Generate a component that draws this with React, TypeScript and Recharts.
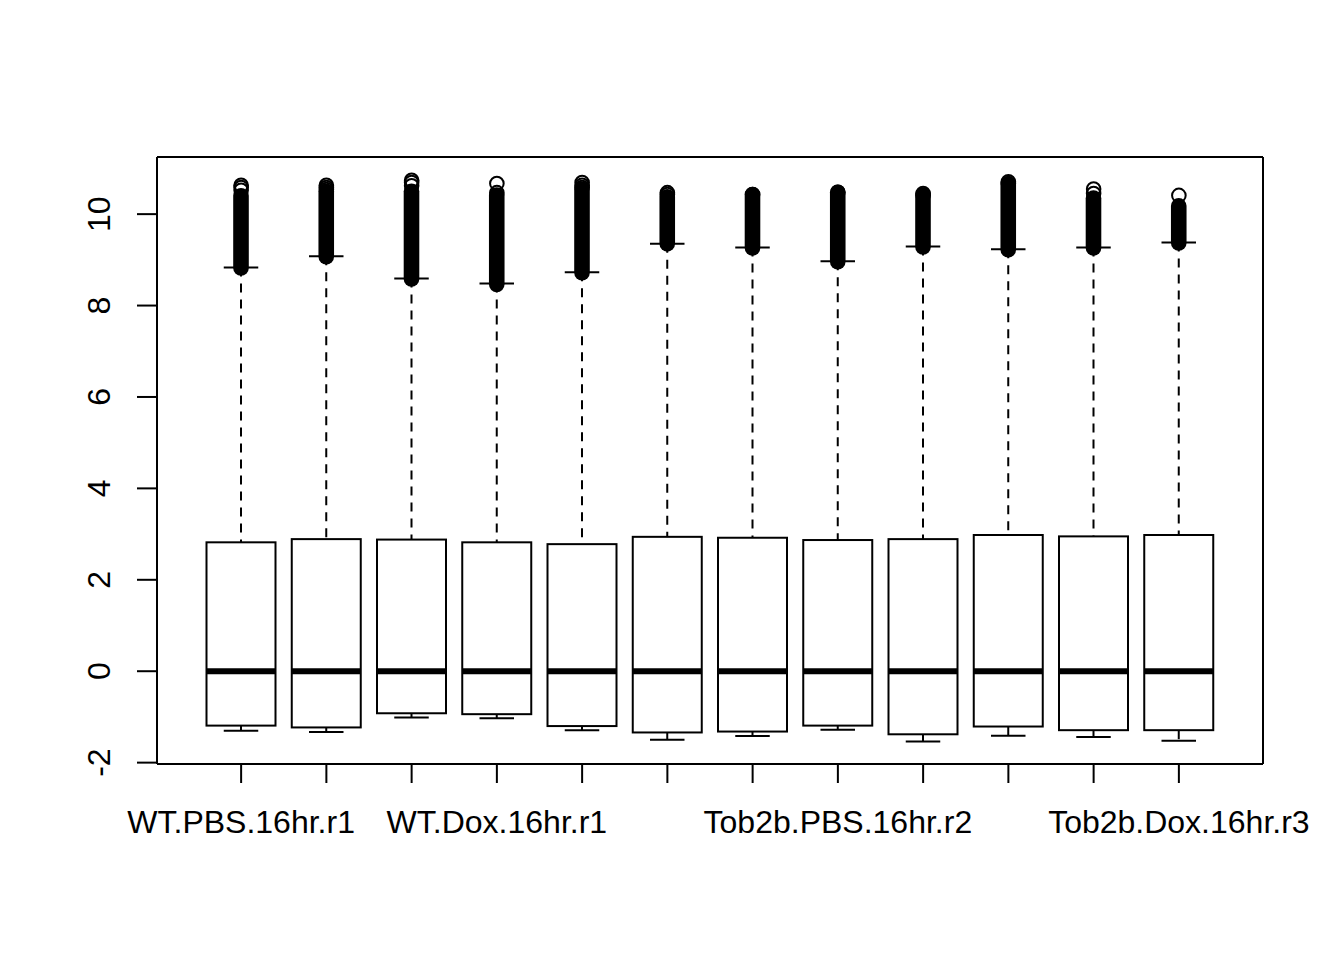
import { Bar, ComposedChart, Scatter, XAxis, YAxis } from "recharts";

const FONT = "'Liberation Sans', Arial, Helvetica, sans-serif";

const samples = [
  "WT.PBS.16hr.r1",
  "WT.PBS.16hr.r2",
  "WT.PBS.16hr.r3",
  "WT.Dox.16hr.r1",
  "WT.Dox.16hr.r2",
  "WT.Dox.16hr.r3",
  "Tob2b.PBS.16hr.r1",
  "Tob2b.PBS.16hr.r2",
  "Tob2b.PBS.16hr.r3",
  "Tob2b.Dox.16hr.r1",
  "Tob2b.Dox.16hr.r2",
  "Tob2b.Dox.16hr.r3",
];

// R only had room for some of the axis names
const shownLabels = [
  "WT.PBS.16hr.r1",
  "WT.Dox.16hr.r1",
  "Tob2b.PBS.16hr.r2",
  "Tob2b.Dox.16hr.r3",
];

const lowerWhisker = [-1.3, -1.33, -1.01, -1.03, -1.29, -1.5, -1.42, -1.28, -1.54, -1.41, -1.44, -1.52];
const q1 = [-1.19, -1.23, -0.92, -0.94, -1.2, -1.34, -1.32, -1.19, -1.38, -1.21, -1.29, -1.29];
const medians = [0, 0, 0, 0, 0, 0, 0, 0, 0, 0, 0, 0];
const q3 = [2.82, 2.89, 2.88, 2.82, 2.78, 2.94, 2.92, 2.87, 2.89, 2.98, 2.95, 2.98];
const upperWhisker = [8.83, 9.08, 8.59, 8.48, 8.73, 9.35, 9.27, 8.97, 9.29, 9.23, 9.27, 9.38];

// outliers above the whisker: a dense run of overlapping points...
const outlierLow = [8.82, 9.07, 8.58, 8.46, 8.72, 9.35, 9.26, 8.96, 9.28, 9.22, 9.26, 9.37];
const outlierDenseTop = [10.4, 10.5, 10.5, 10.42, 10.55, 10.38, 10.43, 10.48, 10.42, 10.65, 10.35, 10.18];
// ...and the few separate points on top of it
const sparseOutliers = [
  [10.63, 10.58, 10.52],
  [10.63, 10.58, 10.54],
  [10.74, 10.69, 10.62],
  [10.67, 10.47],
  [10.69, 10.63, 10.58],
  [10.47, 10.43],
  [10.43],
  [10.48],
  [10.45, 10.41],
  [10.71, 10.67],
  [10.55, 10.45],
  [10.41],
];

const yTicks = [-2, 0, 2, 4, 6, 8, 10];
const yDomain = [-2.03, 11.25];

const data = samples.map((name, i) => ({
  name,
  lo: lowerWhisker[i],
  q1: q1[i],
  med: medians[i],
  q3: q3[i],
  hi: upperWhisker[i],
  outLo: outlierLow[i],
  outHi: outlierDenseTop[i],
}));

const outlierPoints = sparseOutliers.flatMap((vals, i) =>
  vals.map((v) => ({ name: samples[i], value: v }))
);

const R = 7.8;

const BoxShape = (props: any) => {
  const { x, y, width, height, payload } = props;
  const top = Math.min(y, y + height);
  const h = Math.abs(height);
  const span = payload.outHi - payload.lo;
  const py = (v: number) => top + ((payload.outHi - v) / span) * h;
  const cx = x + width / 2;
  const cap = width / 4;
  return (
    <g>
      <rect
        x={cx - R}
        y={py(payload.outHi) - R}
        width={2 * R}
        height={py(payload.outLo) - py(payload.outHi) + 2 * R}
        rx={R}
        fill="#000"
      />
      <line x1={cx} x2={cx} y1={py(payload.hi)} y2={py(payload.q3)} stroke="#000" strokeWidth={2} strokeDasharray="9 7" />
      <line x1={cx} x2={cx} y1={py(payload.q1)} y2={py(payload.lo)} stroke="#000" strokeWidth={2} strokeDasharray="9 7" />
      <line x1={cx - cap} x2={cx + cap} y1={py(payload.hi)} y2={py(payload.hi)} stroke="#000" strokeWidth={2} />
      <line x1={cx - cap} x2={cx + cap} y1={py(payload.lo)} y2={py(payload.lo)} stroke="#000" strokeWidth={2} />
      <rect
        x={x}
        y={py(payload.q3)}
        width={width}
        height={py(payload.q1) - py(payload.q3)}
        fill="#fff"
        stroke="#000"
        strokeWidth={2}
      />
      <line x1={x} x2={x + width} y1={py(payload.med)} y2={py(payload.med)} stroke="#000" strokeWidth={6} />
    </g>
  );
};

const OpenCircle = (props: any) => {
  const { cx, cy } = props;
  return <circle cx={cx} cy={cy} r={6.8} fill="none" stroke="#000" strokeWidth={2} />;
};

const XTick = (props: any) => {
  const { x, y, payload } = props;
  if (!shownLabels.includes(payload.value)) return null;
  return (
    <text x={x} y={y + 48} textAnchor="middle" fontFamily={FONT} fontSize={32} fill="#000">
      {payload.value}
    </text>
  );
};

const YTick = (props: any) => {
  const { x, y, payload } = props;
  const bx = x - 27;
  return (
    <text
      x={bx}
      y={y}
      transform={`rotate(-90, ${bx}, ${y})`}
      textAnchor="middle"
      fontFamily={FONT}
      fontSize={32}
      fill="#000"
    >
      {payload.value}
    </text>
  );
};

export default function App() {
  return (
    <div style={{ width: 1328, height: 944, background: "#fff" }}>
      <ComposedChart
        width={1328}
        height={944}
        data={data}
        margin={{ top: 148, right: 72, bottom: 88, left: 0 }}
      >
        <XAxis
          dataKey="name"
          type="category"
          allowDuplicatedCategory={false}
          interval={0}
          padding={{ left: 41.5, right: 41.5 }}
          height={100}
          tickSize={19}
          tickMargin={2}
          tickLine={{ stroke: "#000", strokeWidth: 2 }}
          axisLine={{ stroke: "#000", strokeWidth: 2 }}
          tick={<XTick />}
        />
        <XAxis
          xAxisId="top"
          orientation="top"
          dataKey="name"
          type="category"
          allowDuplicatedCategory={false}
          interval={0}
          padding={{ left: 41.5, right: 41.5 }}
          height={1}
          tick={false}
          tickLine={false}
          axisLine={{ stroke: "#000", strokeWidth: 2 }}
        />
        <YAxis
          type="number"
          domain={yDomain}
          ticks={yTicks}
          interval={0}
          width={149}
          tickSize={20}
          tickMargin={0}
          tickLine={{ stroke: "#000", strokeWidth: 2 }}
          axisLine={{ stroke: "#000", strokeWidth: 2 }}
          tick={<YTick />}
        />
        <YAxis
          yAxisId="right"
          orientation="right"
          type="number"
          domain={yDomain}
          width={1}
          tick={false}
          tickLine={false}
          axisLine={{ stroke: "#000", strokeWidth: 2 }}
        />
        <Bar
          dataKey={(d: any) => [d.lo, d.outHi]}
          barSize={69}
          shape={BoxShape}
          isAnimationActive={false}
        />
        <Scatter
          xAxisId="top"
          yAxisId="right"
          data={outlierPoints}
          dataKey="value"
          shape={OpenCircle}
          isAnimationActive={false}
        />
      </ComposedChart>
    </div>
  );
}
